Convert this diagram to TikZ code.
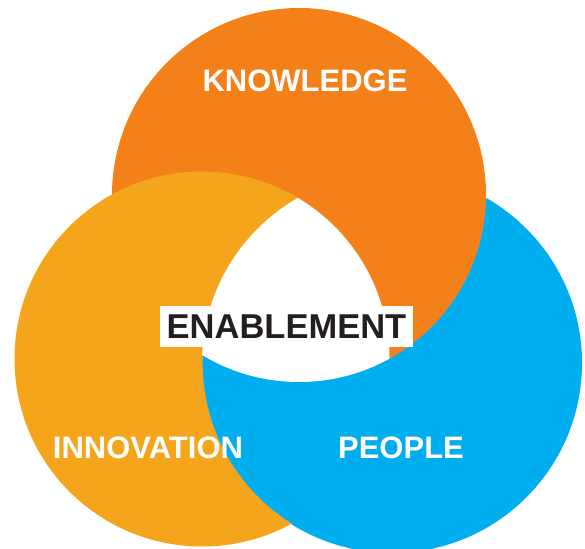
\documentclass[tikz,border=0pt]{standalone}
\usepackage{fontspec}
\setmainfont{Liberation Sans}
\definecolor{knowc}{HTML}{F4801A}
\definecolor{innovc}{HTML}{F5A51B}
\definecolor{peoplec}{HTML}{00ADEE}
\definecolor{inkc}{HTML}{231F20}
\begin{document}
\begin{tikzpicture}[x=1pt,y=-1pt,
  lbl/.style={text=white,font=\bfseries\fontsize{31}{36}\selectfont,inner sep=0pt,anchor=base},
  centrelbl/.style={fill=white,text=inkc,font=\bfseries\fontsize{34.5}{40}\selectfont,
    inner sep=0pt,minimum width=253pt,minimum height=41pt}]
\useasboundingbox (0,0) rectangle (585,548);
\coordinate (kc) at (299,195);
\coordinate (ic) at (202,359);
\coordinate (pc) at (392,363);
% People (bottom layer where Knowledge covers it)
\fill[peoplec] (pc) circle[radius=190pt];
% Knowledge minus Innovation
\begin{scope}
  \clip (kc) circle[radius=187pt];
  \fill[knowc, even odd rule] (-20,-20) rectangle (620,580) (ic) circle[radius=186.6pt];
\end{scope}
% Innovation minus People
\begin{scope}
  \clip (ic) circle[radius=187.5pt];
  \fill[innovc, even odd rule] (-20,-20) rectangle (620,580) (pc) circle[radius=189.3pt];
\end{scope}
% common part of all three: white
\begin{scope}
  \clip (ic) circle[radius=187.5pt];
  \clip (pc) circle[radius=190pt];
  \fill[white] (kc) circle[radius=187pt];
\end{scope}
% labels
\node[lbl] (know) at (305,92) {KNOWLEDGE};
\node[lbl] (innov) at (148,458) {INNOVATION};
\node[lbl] (people) at (401,458) {PEOPLE};
\node[centrelbl] (enable) at (286.5,326.5) {ENABLEMENT};
\end{tikzpicture}
\end{document}
